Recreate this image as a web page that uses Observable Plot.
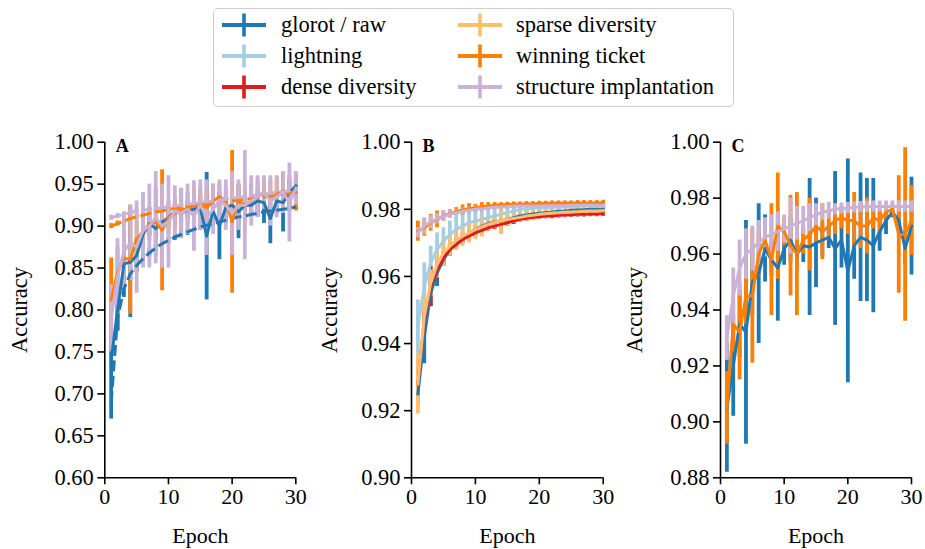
<!DOCTYPE html>
<html><head><meta charset="utf-8">
<script src="https://cdn.jsdelivr.net/npm/d3@7"></script>
<script src="https://cdn.jsdelivr.net/npm/@observablehq/plot@0.6"></script>
<style>
body{margin:0;width:925px;height:549px;position:relative;background:#fff;font-family:"Liberation Serif",serif;overflow:hidden}
#legend{position:absolute;left:213px;top:8px;width:519px;height:97px;border:1.5px solid #cccccc;border-radius:5px;}
.item{position:absolute;height:30px;display:flex;align-items:center;font-size:22.5px;white-space:nowrap;color:#000}
.item svg{display:block}
.panel{position:absolute;top:120px}
</style>
</head><body>
<div id="legend"></div>
<div id="pA" class="panel" style="left:0px"></div>
<div id="pB" class="panel" style="left:310px"></div>
<div id="pC" class="panel" style="left:615px"></div>
<script>
// ---------- data ----------
const epochs = [1,2,3,4,5,6,7,8,9,10,11,12,13,14,15,16,17,18,19,20,21,22,23,24,25,26,27,28,29,30];
const seriesNames = ["glorot / raw","lightning","dense diversity","sparse diversity","winning ticket","structure implantation"];
const seriesColors = ["#1f78b4","#a6cee3","#e31a1c","#fdbf6f","#ff7f00","#cab2d6"];
const panelLabels = ["A","B","C"];
const xTicks = [0,10,20,30];
const yTicksA = [0.60,0.65,0.70,0.75,0.80,0.85,0.90,0.95,1.00];
const yTicksB = [0.90,0.92,0.94,0.96,0.98,1.00];
const yTicksC = [0.88,0.90,0.92,0.94,0.96,0.98,1.00];

// Panel A
const A_glorot_dash = [0.690,0.790,0.825,0.843,0.853,0.861,0.868,0.874,0.879,0.883,0.887,0.890,0.893,0.896,0.899,0.901,0.903,0.905,0.907,0.909,0.911,0.912,0.914,0.915,0.917,0.918,0.919,0.920,0.921,0.923];
const A_glorot_dash_err = [0.020,0.015,0.010,0.008,0.006,0.005,0.005,0.004,0.004,0.004,0.004,0.004,0.004,0.004,0.004,0.004,0.004,0.004,0.004,0.004,0.004,0.004,0.004,0.004,0.004,0.004,0.004,0.004,0.004,0.004];
const A_glorot = [0.740,0.800,0.855,0.857,0.865,0.890,0.903,0.897,0.905,0.910,0.917,0.915,0.919,0.920,0.922,0.888,0.918,0.900,0.922,0.925,0.917,0.925,0.925,0.930,0.928,0.909,0.930,0.928,0.940,0.948];
const A_glorot_err = [0.030,0.025,0.020,0.066,0.020,0.015,0.015,0.012,0.012,0.012,0.010,0.010,0.010,0.010,0.012,0.076,0.012,0.040,0.012,0.012,0.032,0.010,0.010,0.012,0.025,0.030,0.012,0.035,0.015,0.010];
const A_winning_dash = [0.900,0.903,0.906,0.909,0.911,0.913,0.915,0.917,0.918,0.920,0.921,0.922,0.923,0.924,0.925,0.926,0.927,0.928,0.929,0.930,0.931,0.932,0.933,0.934,0.935,0.936,0.937,0.938,0.939,0.940];
const A_winning_dash_err = [0.003,0.003,0.003,0.003,0.003,0.003,0.003,0.003,0.003,0.003,0.003,0.003,0.003,0.003,0.003,0.003,0.003,0.003,0.003,0.003,0.003,0.003,0.003,0.003,0.003,0.003,0.003,0.003,0.003,0.003];
const A_winning = [0.812,0.845,0.862,0.860,0.885,0.893,0.902,0.905,0.895,0.910,0.915,0.920,0.920,0.925,0.925,0.922,0.930,0.935,0.930,0.905,0.930,0.925,0.930,0.935,0.940,0.935,0.938,0.942,0.940,0.940];
const A_winning_err = [0.050,0.030,0.030,0.065,0.020,0.020,0.020,0.040,0.072,0.020,0.020,0.025,0.020,0.020,0.020,0.020,0.020,0.015,0.015,0.085,0.020,0.020,0.020,0.020,0.015,0.020,0.020,0.020,0.020,0.022];
const A_structure_dash = [0.910,0.912,0.914,0.916,0.918,0.919,0.920,0.921,0.922,0.923,0.924,0.925,0.926,0.927,0.928,0.929,0.930,0.931,0.932,0.933,0.934,0.935,0.936,0.937,0.938,0.939,0.940,0.941,0.942,0.943];
const A_structure_dash_err = [0.003,0.003,0.003,0.003,0.003,0.003,0.003,0.003,0.003,0.003,0.003,0.003,0.003,0.003,0.003,0.003,0.003,0.003,0.003,0.003,0.003,0.003,0.003,0.003,0.003,0.003,0.003,0.003,0.003,0.003];
const A_structure = [0.790,0.840,0.870,0.880,0.875,0.895,0.900,0.910,0.900,0.905,0.918,0.915,0.920,0.912,0.925,0.910,0.920,0.930,0.925,0.915,0.925,0.925,0.930,0.935,0.940,0.930,0.935,0.940,0.928,0.945];
const A_structure_err = [0.040,0.045,0.045,0.045,0.055,0.045,0.050,0.055,0.050,0.055,0.030,0.030,0.030,0.042,0.030,0.045,0.030,0.025,0.030,0.050,0.030,0.065,0.030,0.025,0.020,0.030,0.025,0.025,0.047,0.020];

// Panel B
const B_glorot = [0.925,0.942,0.955,0.961,0.965,0.968,0.970,0.9715,0.973,0.974,0.975,0.9757,0.9763,0.9765,0.977,0.9775,0.978,0.9783,0.9786,0.9788,0.979,0.9792,0.9794,0.9795,0.9797,0.9798,0.9799,0.980,0.980,0.980];
const B_glorot_err = [0.003,0.008,0.004,0.004,0.002,0.002,0.0015,0.0015,0.001,0.001,0.001,0.001,0.001,0.0038,0.001,0.001,0.001,0.0008,0.0008,0.0008,0.0008,0.0008,0.0008,0.0008,0.0008,0.0008,0.0008,0.0008,0.0008,0.0008];
const B_lightning = [0.945,0.957,0.964,0.968,0.9705,0.9725,0.974,0.975,0.976,0.9765,0.977,0.9775,0.978,0.9785,0.979,0.9795,0.980,0.980,0.9803,0.9805,0.9805,0.9806,0.9807,0.9808,0.9808,0.9809,0.981,0.981,0.981,0.981];
const B_lightning_err = [0.008,0.007,0.005,0.005,0.004,0.004,0.004,0.004,0.004,0.003,0.003,0.003,0.0025,0.002,0.002,0.0015,0.0015,0.001,0.001,0.001,0.001,0.001,0.001,0.001,0.001,0.001,0.001,0.001,0.001,0.001];
const B_dense = [0.928,0.947,0.957,0.962,0.9655,0.968,0.9695,0.971,0.972,0.973,0.9737,0.9745,0.975,0.9755,0.976,0.9765,0.977,0.9773,0.9776,0.9778,0.978,0.978,0.9782,0.9783,0.9784,0.9785,0.9785,0.9786,0.9786,0.9787];
const B_dense_err = [0.003,0.002,0.006,0.003,0.002,0.002,0.0015,0.0012,0.0012,0.0012,0.001,0.001,0.001,0.001,0.001,0.001,0.0008,0.0008,0.0008,0.0008,0.0008,0.0008,0.0008,0.0008,0.0008,0.0008,0.0008,0.0008,0.0008,0.0008];
const B_sparse = [0.928,0.948,0.958,0.9635,0.967,0.969,0.9707,0.972,0.973,0.974,0.9748,0.9755,0.9762,0.9765,0.977,0.9773,0.9776,0.978,0.9782,0.9785,0.9787,0.9789,0.979,0.9791,0.9792,0.9793,0.9794,0.9795,0.9795,0.9796];
const B_sparse_err = [0.009,0.006,0.004,0.004,0.004,0.003,0.003,0.003,0.003,0.003,0.003,0.002,0.002,0.004,0.002,0.0015,0.0015,0.0015,0.0015,0.0015,0.0015,0.0015,0.0015,0.0015,0.0015,0.0015,0.0015,0.0015,0.0015,0.0015];
const B_winning = [0.9735,0.9745,0.976,0.977,0.978,0.9787,0.9793,0.9798,0.9802,0.9805,0.9808,0.981,0.9812,0.9813,0.9814,0.9815,0.9815,0.9816,0.9816,0.9817,0.9817,0.9818,0.9818,0.9818,0.9818,0.9819,0.9819,0.9819,0.9819,0.982];
const B_winning_err = [0.003,0.0025,0.0025,0.0025,0.0015,0.0012,0.0012,0.0015,0.0015,0.001,0.0012,0.001,0.0008,0.0007,0.0007,0.0007,0.0007,0.0007,0.0007,0.0007,0.0007,0.0007,0.0007,0.0007,0.0007,0.0007,0.0007,0.0007,0.0007,0.0007];
const B_structure = [0.973,0.975,0.9762,0.9772,0.978,0.9785,0.979,0.9794,0.9797,0.980,0.9802,0.9804,0.9806,0.9807,0.9808,0.9809,0.981,0.981,0.981,0.981,0.9811,0.9811,0.9811,0.9811,0.9812,0.9812,0.9812,0.9812,0.9812,0.9812];
const B_structure_err = [0.0015,0.0025,0.002,0.0015,0.0015,0.0012,0.001,0.001,0.001,0.001,0.0008,0.0008,0.0008,0.0008,0.0008,0.0008,0.0008,0.0008,0.0008,0.0008,0.0008,0.0008,0.0008,0.0008,0.0008,0.0008,0.0008,0.0008,0.0008,0.0008];

// Panel C
const C_glorot = [0.905,0.920,0.935,0.932,0.950,0.953,0.962,0.958,0.955,0.962,0.965,0.960,0.963,0.9625,0.964,0.965,0.966,0.962,0.965,0.954,0.963,0.966,0.965,0.963,0.968,0.972,0.975,0.972,0.962,0.970];
const C_glorot_err = [0.023,0.018,0.012,0.040,0.012,0.025,0.012,0.006,0.019,0.006,0.008,0.006,0.006,0.0245,0.016,0.006,0.004,0.0275,0.010,0.040,0.012,0.023,0.022,0.024,0.007,0.005,0.002,0.004,0.006,0.0175];
const C_winning = [0.905,0.935,0.932,0.945,0.945,0.960,0.965,0.958,0.970,0.968,0.963,0.960,0.965,0.967,0.970,0.968,0.970,0.972,0.973,0.972,0.972,0.970,0.970,0.973,0.972,0.975,0.976,0.967,0.967,0.972];
const C_winning_err = [0.013,0.010,0.017,0.010,0.024,0.008,0.005,0.020,0.019,0.005,0.018,0.022,0.005,0.013,0.006,0.010,0.005,0.005,0.004,0.005,0.010,0.008,0.010,0.004,0.004,0.003,0.002,0.021,0.031,0.0125];
const C_structure = [0.930,0.945,0.955,0.960,0.962,0.964,0.966,0.967,0.968,0.969,0.970,0.971,0.972,0.973,0.974,0.975,0.9755,0.976,0.9763,0.9765,0.9767,0.9768,0.9769,0.977,0.977,0.977,0.977,0.977,0.977,0.977];
const C_structure_err = [0.008,0.010,0.010,0.009,0.008,0.008,0.007,0.007,0.007,0.005,0.010,0.006,0.005,0.005,0.004,0.003,0.003,0.002,0.002,0.002,0.002,0.002,0.002,0.002,0.002,0.002,0.002,0.002,0.002,0.002];

// ---------- build ----------
const FONT = "Liberation Serif";
function rows(mean, err){ return epochs.map((e,i)=>({epoch:e, mean:mean[i], err:err[i]})); }

function panel(el, label, yDomain, yTicks, marginLeft, marginRight, series){
  const bars = series.map(s => Plot.ruleX(rows(s.mean, s.err), {
    x: "epoch", y1: d => d.mean - d.err, y2: d => d.mean + d.err,
    stroke: seriesColors[s.idx], strokeWidth: 3.8, strokeLinecap: "butt"}));
  const lines = series.map(s => Plot.line(rows(s.mean, s.err), {
    x: "epoch", y: "mean", stroke: seriesColors[s.idx], strokeWidth: 3,
    strokeDasharray: s.dash ? "11,4.5" : null, strokeLinejoin: "round", strokeLinecap: s.dash ? "butt" : "square"}));
  const p = Plot.plot({
    width: 310, height: 429,
    marginLeft, marginRight, marginTop: 21.7, marginBottom: 71.7,
    style: {fontFamily: FONT, fontSize: "22px", color: "#000", background: "transparent", overflow: "visible"},
    x: {domain: [0,30]},
    y: {domain: yDomain},
    marks: [
      ...bars,
      ...lines,
      Plot.ruleX([0], {stroke: "#000", strokeWidth: 1.6}),
      Plot.ruleY([yDomain[0]], {stroke: "#000", strokeWidth: 1.6}),
      Plot.axisX({ticks: xTicks, tickSize: 7, tickPadding: 4, strokeWidth: 1.6, fontSize: 22,
        label: "Epoch", labelAnchor: "center", labelArrow: "none", labelOffset: 65}),
      Plot.axisY({ticks: yTicks, tickFormat: d3.format(".2f"), tickSize: 7, tickPadding: 4, strokeWidth: 1.6, fontSize: 22.5,
        label: "Accuracy", labelAnchor: "center", labelArrow: "none", labelOffset: marginLeft - 11}),
      Plot.text([label], {frameAnchor: "top-left", dx: 11, dy: 4, lineAnchor: "middle", textAnchor: "start",
        fontWeight: "bold", fontSize: 18, fill: "#000"})
    ]
  });
  p.querySelectorAll("text").forEach(t => t.setAttribute("font-family", FONT));
  document.getElementById(el).appendChild(p);
}

panel("pA", panelLabels[0], [0.60, 1.00], yTicksA, 104.3, 14.7, [
  {idx:0, mean:A_glorot_dash, err:A_glorot_dash_err, dash:true},
  {idx:0, mean:A_glorot, err:A_glorot_err},
  {idx:4, mean:A_winning_dash, err:A_winning_dash_err, dash:true},
  {idx:4, mean:A_winning, err:A_winning_err},
  {idx:5, mean:A_structure_dash, err:A_structure_dash_err, dash:true},
  {idx:5, mean:A_structure, err:A_structure_err}
]);
panel("pB", panelLabels[1], [0.90, 1.00], yTicksB, 101, 17.3, [
  {idx:0, mean:B_glorot, err:B_glorot_err},
  {idx:1, mean:B_lightning, err:B_lightning_err},
  {idx:2, mean:B_dense, err:B_dense_err},
  {idx:3, mean:B_sparse, err:B_sparse_err},
  {idx:4, mean:B_winning, err:B_winning_err},
  {idx:5, mean:B_structure, err:B_structure_err}
]);
panel("pC", panelLabels[2], [0.88, 1.00], yTicksC, 105, 14, [
  {idx:0, mean:C_glorot, err:C_glorot_err},
  {idx:4, mean:C_winning, err:C_winning_err},
  {idx:5, mean:C_structure, err:C_structure_err}
]);

// ---------- legend ----------
const legend = document.getElementById("legend");
const legPos = [[222,281.5,25],[222,281.5,56],[222,281.5,87],[458,516.5,25],[458,516.5,56],[458,516.5,87]];
seriesNames.forEach((name,i) => {
  const [hx, tx, cy] = legPos[i];
  const h = document.createElement("div");
  h.className = "item";
  h.style.left = (hx - 214.5) + "px";
  h.style.top = (cy - 15 - 9.5) + "px";
  h.innerHTML = `<svg width="44" height="30"><line x1="0" x2="44" y1="15" y2="15" stroke="${seriesColors[i]}" stroke-width="4"/><line x1="22" x2="22" y1="3.5" y2="26.5" stroke="${seriesColors[i]}" stroke-width="3.6"/></svg>`;
  legend.appendChild(h);
  const t = document.createElement("div");
  t.className = "item";
  t.style.left = (tx - 214.5) + "px";
  t.style.top = (cy - 15 - 9.5) + "px";
  t.textContent = name;
  legend.appendChild(t);
});
</script>
</body></html>
